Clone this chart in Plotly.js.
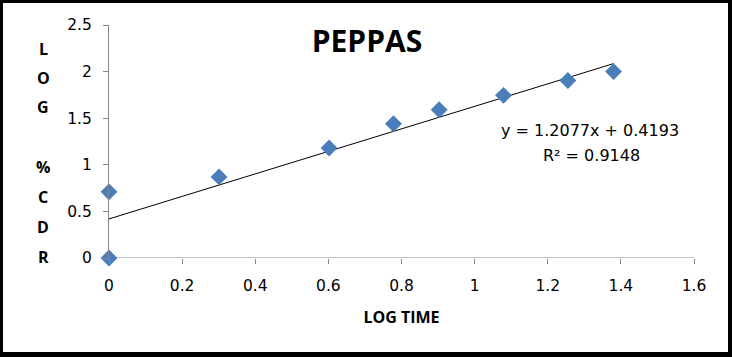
<!DOCTYPE html>
<html>
<head>
<meta charset="utf-8">
<script src="https://cdn.plot.ly/plotly-3.0.1.min.js"></script>
<style>
  html, body { margin: 0; padding: 0; background: #fff; }
  #wrap { position: relative; width: 732px; height: 357px; }
  #chart { width: 732px; height: 357px; }
  #frame { position: absolute; left: 0; top: 0; width: 732px; height: 357px; box-sizing: border-box;
           border-style: solid; border-color: #000; border-width: 3px 4px 5px 3px; pointer-events: none; }
</style>
</head>
<body>
<div id="wrap"><div id="chart"></div><div id="frame"></div></div>
<script>
// Data
const logTime = [0, 0, 0.301, 0.602, 0.778, 0.903, 1.079, 1.255, 1.380];
const logCDR  = [0, 0.71, 0.87, 1.18, 1.44, 1.59, 1.745, 1.905, 2.0];
const slope = 1.2077;
const intercept = 0.4193;
const r2 = 0.9148;
const xTicks = [0, 0.2, 0.4, 0.6, 0.8, 1, 1.2, 1.4, 1.6];
const yTicks = [0, 0.5, 1, 1.5, 2, 2.5];
const yTitleLetters = ["L", "O", "G", "", "%", "C", "D", "R"];

const xMin = Math.min(...logTime), xMax = Math.max(...logTime);
const trendX = [xMin, xMax];
const trendY = trendX.map(x => slope * x + intercept);

const F = "DejaVu Sans, sans-serif";
const FB = "Open Sans, sans-serif";
const axisCol = "#868686";

const traces = [
  { x: trendX, y: trendY, mode: "lines", line: { color: "#000", width: 1 }, hoverinfo: "skip", cliponaxis: false },
  { x: logTime, y: logCDR, mode: "markers", cliponaxis: false,
    marker: { symbol: "diamond", size: 13, color: "#4a7ebb", line: { width: 0 } } }
];

// plot area geometry (px) for annotation placement
const L = 109, R = 38, T = 25, B = 99, W = 732, H = 357;
const pw = W - L - R, ph = H - T - B;
const px = x => (x - L) / pw;
const py = y => (H - B - y) / ph;

const annotations = [];
const letterY = [49, 78, 107, 137, 167, 197, 227, 257];
yTitleLetters.forEach((ch, i) => {
  if (!ch) return;
  annotations.push({ xref: "paper", yref: "paper", x: px(43), y: py(letterY[i]), text: ch, showarrow: false,
    xanchor: "center", yanchor: "middle", font: { family: FB, size: 16, color: "#000", weight: "bold" } });
});
annotations.push({ xref: "paper", yref: "paper", x: px(590), y: py(130),
  text: "y = " + slope.toFixed(4) + "x + " + intercept.toFixed(4), showarrow: false,
  xanchor: "center", yanchor: "middle", font: { family: F, size: 16, color: "#000" } });
annotations.push({ xref: "paper", yref: "paper", x: px(591), y: py(155),
  text: "R² = " + r2.toFixed(4), showarrow: false,
  xanchor: "center", yanchor: "middle", font: { family: F, size: 16, color: "#000" } });

const layout = {
  width: W, height: H,
  margin: { l: L, r: R, t: T, b: B, pad: 0 },
  paper_bgcolor: "#fff", plot_bgcolor: "#fff",
  showlegend: false,
  title: { text: "PEPPAS", x: 367 / W, xanchor: "center", y: 1 - 41 / H, yanchor: "middle",
           font: { family: FB, size: 30, color: "#000", weight: "bold" } },
  xaxis: {
    range: [0, 1.6], tickvals: xTicks, ticktext: xTicks.map(String),
    showgrid: false, zeroline: false, showline: false,
    ticks: "outside", ticklen: 5, tickcolor: axisCol, tickwidth: 1,
    ticklabelstandoff: 8,
    tickfont: { family: F, size: 15.5, color: "#000" },
    title: { text: "LOG TIME", standoff: 18, font: { family: FB, size: 16, color: "#000", weight: "bold" } },
    fixedrange: true
  },
  yaxis: {
    range: [0, 2.5], tickvals: yTicks, ticktext: yTicks.map(String),
    showgrid: false, zeroline: false, showline: true, linecolor: axisCol, linewidth: 1,
    ticks: "outside", ticklen: 5, tickcolor: axisCol, tickwidth: 1,
    ticklabelstandoff: 8,
    tickfont: { family: F, size: 15.5, color: "#000" },
    fixedrange: true
  },
  shapes: [
    { type: "line", xref: "x", yref: "y", x0: 0, x1: 1.6, y0: 0, y1: 0, line: { color: axisCol, width: 1 }, layer: "below" }
  ],
  annotations: annotations
};

Plotly.newPlot("chart", traces, layout, { displayModeBar: false, staticPlot: true });
</script>
</body>
</html>
